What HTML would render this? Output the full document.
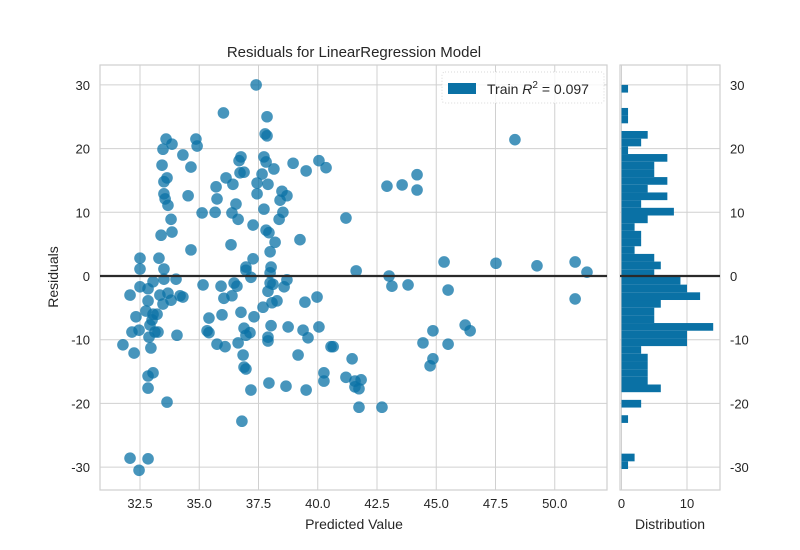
<!DOCTYPE html>
<html><head><meta charset="utf-8"><style>
body{margin:0;background:#fff;}
svg{display:block;font-family:"Liberation Sans","DejaVu Sans",sans-serif;}
</style></head><body>
<svg id="chart" width="800" height="550" viewBox="0 0 800 550">
<rect width="800" height="550" fill="#fff"/>
<text x="354" y="57" text-anchor="middle" font-size="15" fill="#262626">Residuals for LinearRegression Model</text>
<g id="main"></g>
<g id="hist"></g>
<text x="354" y="529" text-anchor="middle" font-size="14" fill="#262626">Predicted Value</text>
<text transform="translate(58,277) rotate(-90)" text-anchor="middle" font-size="14" fill="#262626">Residuals</text>
<text x="670" y="529" text-anchor="middle" font-size="14" fill="#262626">Distribution</text>
<g>
<rect x="442" y="72" width="162" height="31" rx="3" fill="#fff" fill-opacity="0.8" stroke="#d8d8d8" stroke-width="1" stroke-dasharray="1,2"/>
<rect x="448" y="83" width="28" height="11" fill="#0a71a5"/>
<text x="487" y="94" font-size="14" fill="#262626">Train <tspan font-style="italic">R</tspan><tspan dy="-6" font-size="10">2</tspan><tspan dy="6"> = 0.097</tspan></text>
</g>
</svg>
<script>
const predicted=[37.40,36.02,37.86,37.78,37.86,33.60,33.85,33.47,34.86,34.91,34.31,33.43,34.65,36.76,36.68,37.73,37.82,38.96,40.05,40.35,39.51,38.15,36.72,36.89,37.65,36.13,33.64,33.51,36.42,35.71,37.44,37.90,38.49,38.70,38.41,37.44,33.51,33.56,33.68,34.53,35.75,36.55,36.38,35.67,35.12,37.73,38.53,38.37,33.81,36.64,41.19,37.27,33.85,33.39,37.82,37.94,38.20,39.25,36.34,34.65,37.99,32.50,33.30,37.27,32.50,33.51,36.97,38.03,41.62,48.32,44.19,42.92,43.56,44.19,45.33,47.52,49.25,50.86,51.36,43.01,43.13,43.81,45.50,50.86,46.22,46.43,44.86,44.44,45.50,41.45,44.86,44.74,41.19,41.57,41.83,41.57,41.74,41.74,42.71,32.50,33.05,32.84,33.51,34.02,32.08,33.68,33.34,33.81,33.47,34.19,34.31,32.84,35.16,35.92,36.04,36.38,36.47,36.59,37.18,36.97,37.99,37.99,38.11,37.90,38.58,38.70,39.97,39.46,32.75,32.33,33.22,33.05,33.01,32.92,33.13,33.26,32.46,32.16,32.88,34.06,31.78,32.25,32.96,32.84,33.05,32.84,33.64,35.41,35.96,36.76,37.31,37.69,38.07,38.28,35.33,35.41,36.89,37.14,36.97,38.03,38.75,39.38,39.59,40.05,37.90,37.90,35.75,36.09,36.64,36.85,36.89,36.97,37.18,37.94,38.66,39.51,39.17,40.56,40.26,40.26,36.80,32.08,32.84,32.46,40.65];
const residuals=[30.0,25.6,25.0,22.3,22.0,21.5,20.7,19.9,21.5,20.4,19.0,17.4,17.1,18.7,18.1,18.7,17.9,17.7,18.1,17.0,16.5,16.8,16.2,16.3,16.0,15.4,15.4,14.8,14.4,14.0,14.6,14.4,13.3,12.6,11.9,12.9,12.9,12.1,11.1,12.6,12.1,11.3,9.9,10.0,9.9,10.5,10.0,8.9,8.9,8.9,9.1,8.0,6.9,6.4,7.2,6.8,5.3,5.7,4.9,4.1,3.8,2.8,2.8,2.7,1.1,1.1,1.4,1.4,0.8,21.4,15.9,14.1,14.3,13.5,2.2,2.0,1.6,2.2,0.6,0.0,-1.6,-1.4,-2.2,-3.6,-7.7,-8.6,-8.6,-10.5,-10.7,-13.0,-13.0,-14.1,-15.9,-16.5,-16.3,-17.4,-17.7,-20.6,-20.6,-1.7,-0.9,-2.0,-0.5,-0.5,-3.0,-2.7,-3.0,-3.8,-4.4,-3.1,-3.3,-3.9,-1.4,-1.6,-3.5,-3.1,-1.1,-1.6,-0.2,0.9,0.5,-1.1,-1.3,-2.4,-1.7,-0.6,-3.3,-4.1,-5.5,-6.4,-6.0,-6.0,-6.9,-7.7,-8.8,-8.8,-8.5,-8.8,-9.6,-9.3,-10.8,-12.1,-11.3,-15.7,-15.2,-17.6,-19.8,-6.6,-6.1,-5.7,-6.4,-4.9,-4.2,-3.9,-8.6,-8.9,-8.2,-8.9,-9.3,-7.8,-8.0,-8.5,-9.7,-8.0,-9.6,-10.2,-10.7,-11.1,-10.5,-12.4,-14.3,-14.6,-17.9,-16.8,-17.3,-17.9,-12.4,-11.1,-15.2,-16.5,-22.8,-28.6,-28.7,-30.5,-11.1];
// histogram counts, bins from bottom (-30.3) to top (30.0)
const histCounts=[1,2,0,0,0,0,1,0,3,0,6,4,4,4,4,3,10,10,14,5,5,6,12,10,9,5,6,5,2,3,3,2,4,8,3,7,4,7,5,5,7,1,3,4,0,1,1,0,0,1];
const binMin=-30.3, binMax=30.0;
const xTicks=[32.5,35.0,37.5,40.0,42.5,45.0,47.5,50.0];
const yTicks=[30,20,10,0,-10,-20,-30];
const hTicks=[0,10];

const NS="http://www.w3.org/2000/svg";
function mk(tag,attrs,parent){const e=document.createElementNS(NS,tag);for(const k in attrs)e.setAttribute(k,attrs[k]);parent.appendChild(e);return e;}
const L=100,R=607,T=65,B=490;
const sx=v=>140+(v-32.5)*23.7;
const sy=v=>276-v*6.37;
const HL=620,HR=720;
const hx=v=>621.5+v*6.55;
const main=document.getElementById('main');
const hist=document.getElementById('hist');

let bg=mk('rect',{x:L,y:T,width:R-L,height:B-T,fill:'#fff',stroke:'#cfcfcf','stroke-width':1.2},main);


xTicks.forEach(t=>{
  const g=mk('line',{x1:sx(t),x2:sx(t),y1:T,y2:B,stroke:'#d0d0d0','stroke-width':1},main);
  
  
  const tx=mk('text',{x:sx(t),y:B+18,'text-anchor':'middle','font-size':13,fill:'#262626'},main);
  tx.textContent=t.toFixed(1);
  
  
});
yTicks.forEach(t=>{
  const g=mk('line',{x1:L,x2:R,y1:sy(t),y2:sy(t),stroke:'#d0d0d0','stroke-width':1},main);
  
  
  const tx=mk('text',{x:L-10,y:sy(t)+5,'text-anchor':'end','font-size':13,fill:'#262626'},main);
  tx.textContent=t;
  
  
});
predicted.forEach((p,i)=>{
  const c=mk('circle',{cx:sx(p),cy:sy(residuals[i]),r:5.8,fill:'#0a71a5','fill-opacity':0.75},main);
  
  
});
let zl=mk('line',{x1:L,x2:R,y1:sy(0),y2:sy(0),stroke:'#2a2a2a','stroke-width':2.2},main);



let hb=mk('rect',{x:HL,y:T,width:HR-HL,height:B-T,fill:'#fff',stroke:'#cfcfcf','stroke-width':1.2},hist);


hTicks.forEach(t=>{
  const g=mk('line',{x1:hx(t),x2:hx(t),y1:T,y2:B,stroke:'#d0d0d0','stroke-width':1},hist);
  
  
  const tx=mk('text',{x:hx(t),y:B+18,'text-anchor':'middle','font-size':13,fill:'#262626'},hist);
  tx.textContent=t;
  
  
});
yTicks.forEach(t=>{
  const g=mk('line',{x1:HL,x2:HR,y1:sy(t),y2:sy(t),stroke:'#d0d0d0','stroke-width':1},hist);
  
  
  const tx=mk('text',{x:HR+10,y:sy(t)+5,'text-anchor':'start','font-size':13,fill:'#262626'},hist);
  tx.textContent=t;
  
  
});
const bw=(binMax-binMin)/histCounts.length;
histCounts.forEach((c,i)=>{
  if(!c)return;
  const lo=binMin+i*bw, hi=lo+bw;
  const r=mk('rect',{x:hx(0),y:sy(hi),width:hx(c)-hx(0),height:sy(lo)-sy(hi),fill:'#0a71a5'},hist);
  
  
});
let hz=mk('line',{x1:HL,x2:HR,y1:sy(0),y2:sy(0),stroke:'#2a2a2a','stroke-width':2.2},hist);


</script>
</body></html>
